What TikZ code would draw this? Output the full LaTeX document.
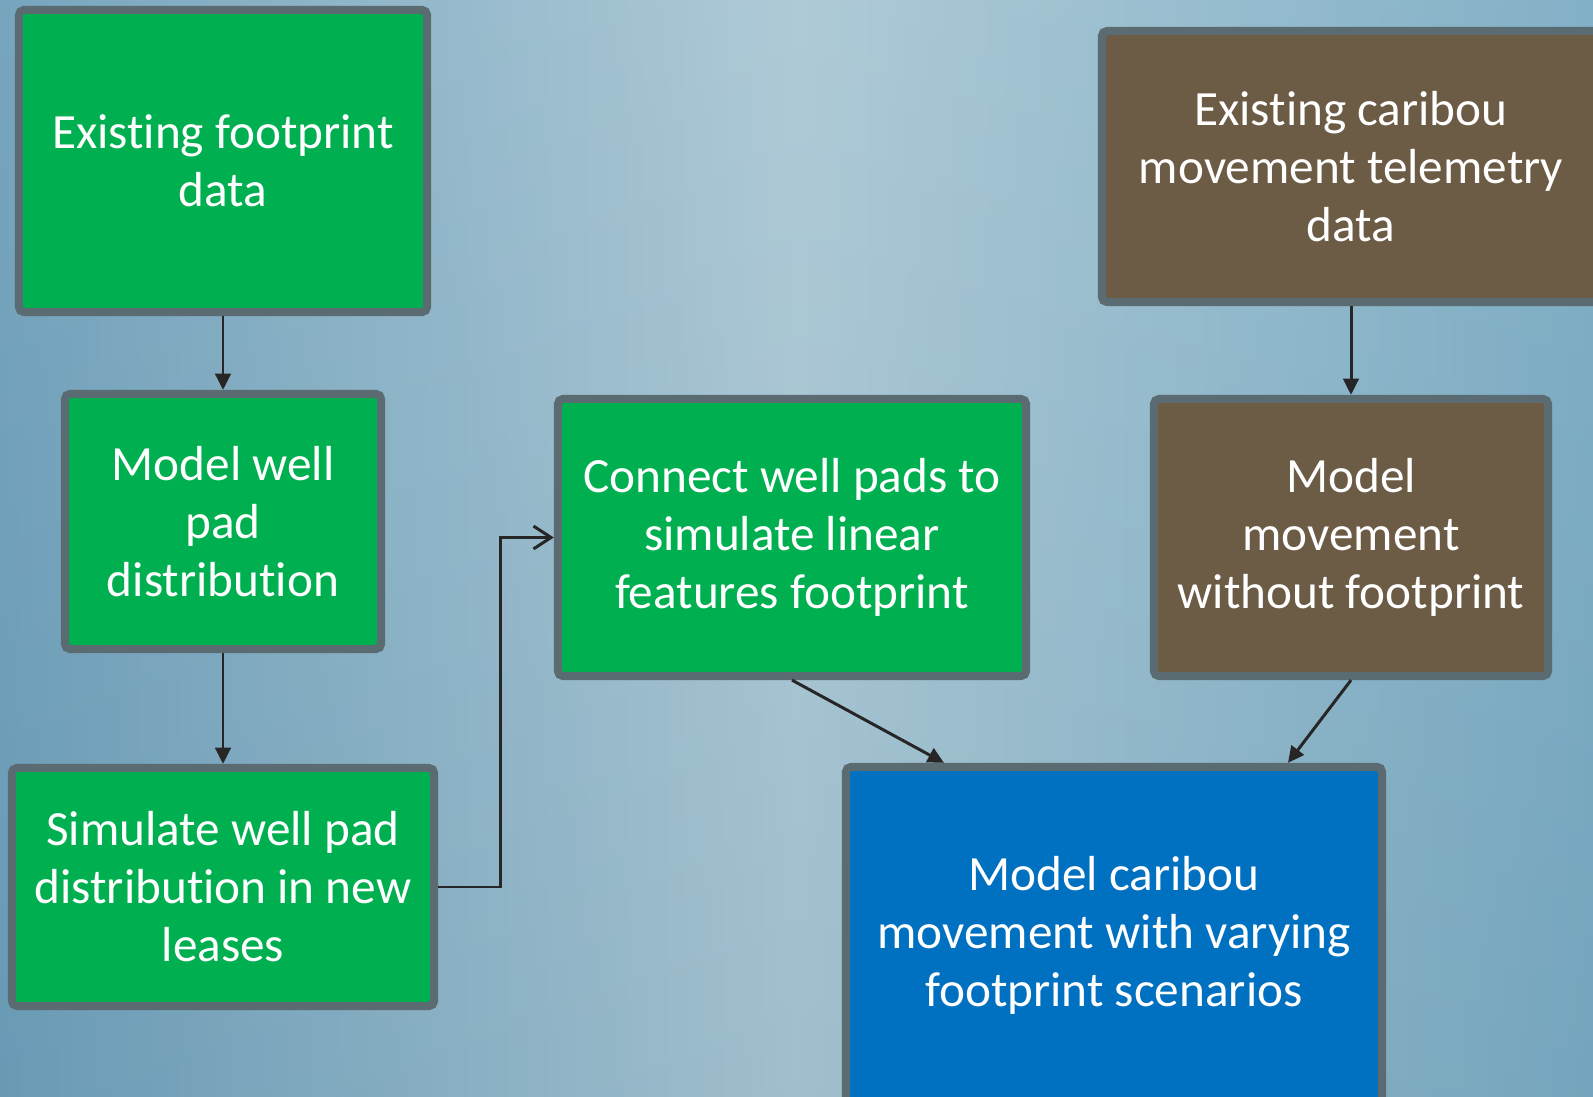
\documentclass[tikz,border=0pt]{standalone}
\usepackage{fontspec}
\setmainfont{Carlito}[RawFeature={-liga}]
\usetikzlibrary{arrows.meta,calc}
\definecolor{boxgreen}{RGB}{0,176,80}
\definecolor{boxbrown}{RGB}{108,91,69}
\definecolor{boxblue}{RGB}{0,112,192}
\definecolor{boxedge}{RGB}{90,108,113}
\definecolor{bgdark}{RGB}{108,158,185}
\definecolor{bglight}{RGB}{168,198,212}
\definecolor{bgright}{RGB}{120,170,194}

\begin{document}
\begin{tikzpicture}[x=0.01cm,y=-0.01cm,
  box/.style={draw=boxedge, line width=2.3pt, rounded corners=1.5pt, text=white,
    align=center, inner sep=0pt, font=\fontsize{14}{16.5}\selectfont},
  link/.style={line width=0.85pt, color=black!85, -{Triangle[length=4.6pt,width=4.4pt]}}]
\useasboundingbox (0,0) rectangle (1593,1097);
\clip (0,0) rectangle (1593,1097);
% background
\shade[left color=bgdark, right color=bgright, middle color=bglight, shading angle=90] (0,0) rectangle (1593,1097);
\shade[top color=white, bottom color=bgdark!70!black, opacity=0.08] (0,0) rectangle (1593,1097);

% boxes
\node[box, fill=boxgreen, minimum width=4.08cm, minimum height=3.02cm] (m1) at (223,161) {Existing footprint\\data};
\node[box, fill=boxgreen, minimum width=3.16cm, minimum height=2.55cm] (m2) at (223,521.5) {Model well\\pad\\distribution};
\node[box, fill=boxgreen, minimum width=4.22cm, minimum height=2.38cm] (m3) at (223,887) {Simulate well pad\\distribution in new\\leases};
\node[box, fill=boxgreen, minimum width=4.68cm, minimum height=2.77cm] (m4) at (792,537.5) {Connect well pads to\\simulate linear\\features footprint};
\node[box, fill=boxbrown, minimum width=4.98cm, minimum height=2.71cm] (m5) at (1351,166.5) {Existing caribou\\movement telemetry\\data};
\node[box, fill=boxbrown, minimum width=3.94cm, minimum height=2.77cm] (m6) at (1351,537.5) {Model\\movement\\without footprint};
\node[box, fill=boxblue, minimum width=5.36cm, minimum height=3.36cm] (m7) at (1114,935) {Model caribou\\movement with varying\\footprint scenarios};

% connectors
\draw[link] (m1.south) -- (m2.north);
\draw[link] (m2.south) -- (m3.north);
\draw[link, -{Straight Barb[length=5pt,width=6.5pt]}] (m3.east) -- ($(m3.east)+(62,0)$) |- (m4.west);
\draw[link] (m4.south) -- ($(m7.north)+(-170,0)$);
\draw[link] (m5.south) -- (m6.north);
\draw[link] (m6.south) -- ($(m7.north)+(174,0)$);
\end{tikzpicture}
\end{document}
